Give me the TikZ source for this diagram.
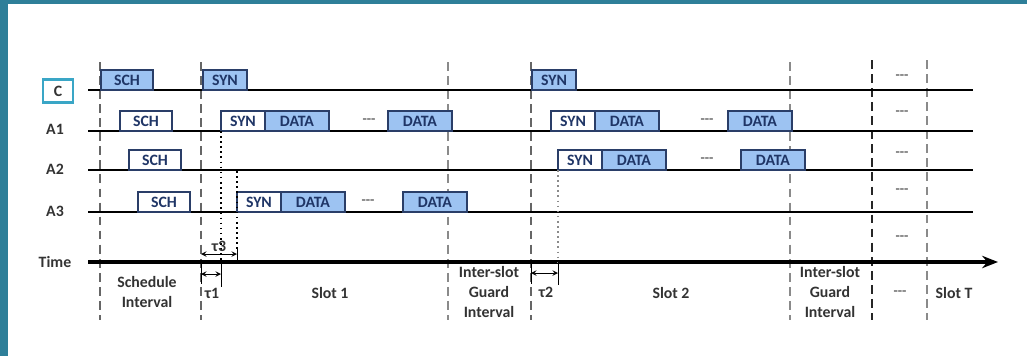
\documentclass[tikz,border=0pt]{standalone}
\usepackage{fontspec}
\setmainfont{Carlito}
\usetikzlibrary{positioning,arrows.meta}
\definecolor{framecol}{HTML}{2E7F99}
\definecolor{cboxcol}{HTML}{3AA6C6}
\definecolor{boxblue}{HTML}{9DC3F2}
\definecolor{boxline}{HTML}{2A3E68}
\definecolor{boxtext}{HTML}{1F3566}
\definecolor{labelgray}{HTML}{333333}
\definecolor{guidegray}{HTML}{8A8A8A}

\begin{document}
\begin{tikzpicture}[
    x=0.02cm, y=-0.02cm,
    >=stealth,
    font=\fontsize{9}{11.4}\selectfont\bfseries,
    text=labelgray,
    box/.style={draw=boxline, line width=1.1pt, minimum height=0.4cm,
                inner sep=0pt, outer sep=0pt, text=boxtext, anchor=south west},
    schbox/.style={box, minimum width=1.04cm},
    synbox/.style={box, minimum width=0.88cm},
    databox/.style={box, fill=boxblue, minimum width=1.28cm},
    track/.style={line width=0.9pt},
    guide/.style={dashed, dash pattern=on 5pt off 3pt, line width=1.1pt, draw=guidegray},
    gap/.style={dotted, line width=0.9pt},
    dots/.style={font=\fontsize{8}{9}\selectfont\bfseries, text=black!60}
  ]
  \useasboundingbox (0,0) rectangle (1027,356);
  \fill[framecol] (0,0) rectangle (8,356);
  \fill[framecol] (0,0) rectangle (1027,4);

  % interval boundaries
  \draw[guide, draw=gray!80!black] (100,62) -- (100,320);
  \draw[guide, draw=gray!80!black] (201,62) -- (201,320);
  \draw[guide] (448,62) -- (448,320);
  \draw[guide, draw=gray!80!black] (531,62) -- (531,320);
  \draw[guide] (790,62) -- (790,320);
  \draw[guide, draw=black!85] (872,60) -- (872,320);
  \draw[guide] (927,60) -- (927,320);

  % rows
  \node (C_label) [draw=cboxcol, line width=1.6pt, minimum width=0.6cm,
                   minimum height=0.46cm, inner sep=0pt] at (58,91) {C};
  \node (A1_label) at (55,129) {A1};
  \node (A2_label) at (55,169) {A2};
  \node (A3_label) at (55,211) {A3};
  \node (T_label) at (55,262) {Time};
  \coordinate (C_start) at (88,90);   \coordinate (C_end) at (973,90);
  \coordinate (A1_start) at (88,131); \coordinate (A1_end) at (973,131);
  \coordinate (A2_start) at (88,170); \coordinate (A2_end) at (973,170);
  \coordinate (A3_start) at (88,212); \coordinate (A3_end) at (973,212);
  \coordinate (T_start) at (88,262);  \coordinate (T_end) at (998,262);
  \draw[track] (C_start) -- (C_end);
  \draw[track] (A1_start) -- (A1_end);
  \draw[track] (A2_start) -- (A2_end);
  \draw[track] (A3_start) -- (A3_end);
  \draw[line width=2pt, -{Stealth[length=9pt,width=7pt]}] (T_start) -- (T_end);

  % C
  \node[schbox, fill=boxblue] (C_sch) at (101,90) {SCH};
  \node[synbox, fill=boxblue] (C_syn1) at (203,90) {SYN};
  \node[synbox, fill=boxblue] (C_syn2) at (532,90) {SYN};

  % A1
  \node[schbox] (A1_sch) at (120,131) {SCH};
  \node[synbox] (A1_syn1) at (221,131) {SYN};
  \node[databox, right=0pt of A1_syn1] (A1_data1) {DATA};
  \node[dots] (A1_dots1) at (369,121) {-{}-{}-};
  \node[databox] (A1_data2) at (388,131) {DATA};
  \node[synbox] (A1_syn2) at (551,131) {SYN};
  \node[databox, right=0pt of A1_syn2] (A1_data3) {DATA};
  \node[dots] (A1_dots2) at (707,121) {-{}-{}-};
  \node[databox] (A1_data4) at (728,131) {DATA};

  % A2
  \node[schbox] (A2_sch) at (129,170) {SCH};
  \node[synbox] (A2_syn) at (558,170) {SYN};
  \node[databox, right=0pt of A2_syn] (A2_data1) {DATA};
  \node[dots] (A2_dots) at (707,160) {-{}-{}-};
  \node[databox] (A2_data2) at (741,170) {DATA};

  % A3
  \node[schbox] (A3_sch) at (138,212) {SCH};
  \node[synbox] (A3_syn) at (237,212) {SYN};
  \node[databox, right=0pt of A3_syn] (A3_data1) {DATA};
  \node[dots] (A3_dots) at (368,202) {-{}-{}-};
  \node[databox] (A3_data2) at (403,212) {DATA};

  % slots after slot 2
  \node[dots] at (902,77) {-{}-{}-};
  \node[dots] at (902,113) {-{}-{}-};
  \node[dots] at (902,154) {-{}-{}-};
  \node[dots] at (902,191) {-{}-{}-};
  \node[dots] at (902,238) {-{}-{}-};

  % propagation delays
  \coordinate (tau1_end) at (221,262);
  \coordinate (tau3_end) at (237,250);
  \coordinate (tau2_end) at (558,262);
  \draw[gap] (A1_syn1.south west) -- (tau1_end);
  \draw[gap] (237,171) -- (tau3_end);
  \draw[gap, draw=guidegray] (A2_syn.south west) -- (tau2_end);
  \draw (237,248) -- (237,262);
  \draw (221,262) -- (221,287);
  \draw (201,262) -- (201,284);
  \draw (558,262) -- (558,285);
  \draw (531,262) -- (531,284);
  \draw[<->] (201,254) -- node[above=-2pt] {τ3} (237,254);
  \draw[<->] (201,274) -- (221,274);
  \draw[<->] (531,273) -- (558,273);
  \node (tau1) at (212,293) {τ1};
  \node (tau2) at (546,292) {τ2};

  % intervals
  \node[align=center] (sched) at (147,292) {Schedule\\Interval};
  \node (slot1) at (330,293) {Slot 1};
  \node[align=center] (guard1) at (489,292) {Inter-slot\\Guard\\Interval};
  \node (slot2) at (671,293) {Slot 2};
  \node[align=center] (guard2) at (830,292) {Inter-slot\\Guard\\Interval};
  \node[dots] (more) at (900,293) {-{}-{}-};
  \node (slotT) at (954,293) {Slot T};
\end{tikzpicture}
\end{document}
